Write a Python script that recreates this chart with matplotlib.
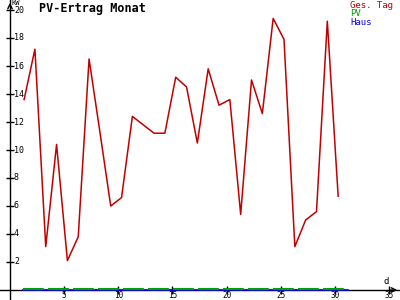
import numpy as np
import matplotlib
matplotlib.use("Agg")
import matplotlib.pyplot as plt
from matplotlib.transforms import offset_copy

# ─── Dades ────────────────────────────────────────────────────────────────────

days = np.arange(1, 31)
ges_tag = [13.6, 17.2, 3.1, 10.4, 2.1, 3.8, 16.5, 11.3, 6.0, 6.6,
           12.4, 11.8, 11.2, 11.2, 15.2, 14.5, 10.5, 15.8, 13.2, 13.6,
           5.4, 15.0, 12.6, 19.4, 17.9, 3.1, 5.0, 5.6, 19.2, 6.7]
pv_days = np.arange(1, 32)
pv = [0.0] * 31
haus = [0.0] * 31

x_ticks = [5, 10, 15, 20, 25, 30, 35]
y_ticks = [2, 4, 6, 8, 10, 12, 14, 16, 18, 20]
title = "PV-Ertrag Monat"
legend_labels = ["Ges. Tag", "PV", "Haus"]

COLORS = {"ges": "#c00000", "pv": "#00a000", "haus": "#0000ff", "axis": "#000000"}
MONO = "DejaVu Sans Mono"
OFFSET = 0.3  # valors mostrats a l'hora del dia

# ─── Figura ───────────────────────────────────────────────────────────────────

fig = plt.figure(figsize=(4, 3), dpi=100, facecolor="white")
ax = fig.add_axes([0, 0, 1, 1])
ax.set_xlim(-10 / 10.83, 390 / 10.83)
ax.set_ylim(-10 / 14.0, 290 / 14.0)

ax.plot(pv_days + OFFSET - 0.1, haus, color=COLORS["haus"], lw=1.2, zorder=3)
ax.plot(pv_days + OFFSET - 0.1, np.array(pv) + 0.07, color=COLORS["pv"], lw=1.5,
        dashes=(10, 2), zorder=4)
ax.plot(days + OFFSET, ges_tag, color=COLORS["ges"], lw=1.1, zorder=5)

for s in ["top", "right"]:
    ax.spines[s].set_visible(False)
ax.spines["left"].set_position(("data", 0))
ax.spines["bottom"].set_position(("data", 0))
ax.spines["left"].set_linewidth(1)
ax.spines["bottom"].set_linewidth(1)

ax.set_xticks(x_ticks)
ax.set_xticklabels([str(t) for t in x_ticks], fontsize=5.5, family=MONO)
ax.tick_params(axis="x", direction="inout", length=6, width=1, pad=-2)
ax.set_yticks(y_ticks)
ax.tick_params(axis="y", direction="inout", length=6, width=1, labelleft=False)

lab_tr = offset_copy(ax.transData, fig=fig, x=4, y=0, units="dots")
for t in y_ticks:
    ax.text(0, t, str(t), transform=lab_tr, fontsize=6, family=MONO,
            ha="left", va="center")

# fletxes dels eixos
ax.annotate("", xy=(1.0, 0), xytext=(0.97, 0),
            xycoords=("axes fraction", "data"), textcoords=("axes fraction", "data"),
            arrowprops=dict(arrowstyle="->", lw=1, color=COLORS["axis"],
                            mutation_scale=8))
ax.annotate("", xy=(0, 1.0), xytext=(0, 0.97),
            xycoords=("data", "axes fraction"), textcoords=("data", "axes fraction"),
            arrowprops=dict(arrowstyle="->", lw=1, color=COLORS["axis"],
                            mutation_scale=8))

# textos
fig.text(39 / 400, 1 - 2 / 300, title, fontsize=8.5, fontweight="bold",
         family=MONO, ha="left", va="top")
fig.text(12 / 400, 1 - 0 / 300, "KW", fontsize=5, family=MONO, ha="left", va="top")
fig.text(384 / 400, 1 - 282 / 300, "d", fontsize=6.5, family=MONO,
         ha="left", va="center")
for i, (lab, c) in enumerate(zip(legend_labels,
                                 [COLORS["ges"], COLORS["pv"], COLORS["haus"]])):
    fig.text(350 / 400, 1 - (1 + 8.5 * i) / 300, lab, fontsize=6.5, family=MONO,
             color=c, ha="left", va="top")

plt.savefig("out.png", dpi=100, facecolor="white")
